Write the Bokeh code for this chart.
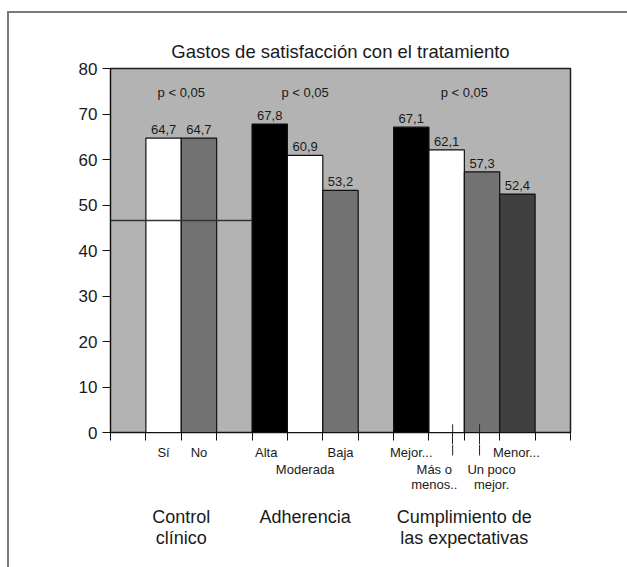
from bokeh.plotting import figure
from bokeh.layouts import column
from bokeh.models import (ColumnDataSource, Range1d, LinearAxis, FixedTicker, LabelSet)
from bokeh.core.properties import value
from bokeh.embed import file_html
from bokeh.resources import INLINE

# ---- data -------------------------------------------------------------
TITLE = "Gastos de satisfacción con el tratamiento"
groups = ["Control\nclínico", "Adherencia", "Cumplimiento de\nlas expectativas"]
group_sizes = [2, 3, 4]
group_notes = ["p < 0,05", "p < 0,05", "p < 0,05"]
categories = ["Sí", "No", "Alta", "Moderada", "Baja",
              "Mejor...", "Más o\nmenos..", "Un poco\nmejor.", "Menor..."]
scores = [64.7, 64.7, 67.8, 60.9, 53.2, 67.1, 62.1, 57.3, 52.4]
reference_score = 46.6
y_ticks = [0, 10, 20, 30, 40, 50, 60, 70, 80]

# ---- styling ----------------------------------------------------------
FONT = "Liberation Sans"
INK = "#1a1a1a"
bar_colors = ["white", "#727272", "black", "white", "#727272",
              "black", "white", "#727272", "#404040"]
label_rows = [0, 0, 0, 1, 0, 0, 1, 1, 0]        # staggered category labels
label_nudge = [0, 0, -0.1, 0, 0, 0, -0.35, 0.27, -0.03]   # in slot widths
row_top_px = [0, -17]                            # label tops below the axis strip
leader_dx = {6: 0.17, 7: -0.07}                  # leader lines for crowded labels

# slot layout: one empty slot before, between and after the groups
xs, group_centers = [], []
slot = 1
for n in group_sizes:
    pos = [slot + k + 0.5 for k in range(n)]
    xs += pos
    group_centers.append(sum(pos) / n)
    slot += n + 1
n_slots = slot
leader_x = [xs[i] + d for i, d in leader_dx.items()]

src = ColumnDataSource(dict(
    x=xs,
    score=scores,
    color=bar_colors,
    value_text=[f"{s:.1f}".replace(".", ",") for s in scores],
))
cat_src = ColumnDataSource(dict(
    x=[x + d for x, d in zip(xs, label_nudge)],
    y=[row_top_px[r] for r in label_rows],
    text=categories,
))
gsrc = ColumnDataSource(dict(x=group_centers, name=groups, note=group_notes))

x_range = Range1d(0, n_slots)

# ---- main chart -------------------------------------------------------
p = figure(width=618, height=431, x_range=x_range, y_range=Range1d(0, 80),
           output_backend="svg", toolbar_location=None,
           x_axis_type=None, y_axis_type=None,
           min_border_left=101, min_border_right=57,
           min_border_top=55, min_border_bottom=12)
p.background_fill_color = "#b3b3b3"
p.border_fill_color = "white"
p.outline_line_color = "#1e1e1e"
p.outline_line_width = 1.5

p.title.text = TITLE
p.title.align = "center"
p.title.text_font = FONT
p.title.text_font_size = "18.5px"
p.title.text_font_style = "normal"
p.title.text_color = INK
p.title.standoff = 14

yaxis = LinearAxis(ticker=FixedTicker(ticks=y_ticks))
yaxis.major_tick_out = 8
yaxis.major_tick_in = 0
yaxis.minor_tick_line_color = None
yaxis.major_label_standoff = 5
yaxis.major_label_text_font = FONT
yaxis.major_label_text_font_size = "17px"
yaxis.major_label_text_color = INK
yaxis.axis_line_color = "#111"
yaxis.major_tick_line_color = "#111"
p.add_layout(yaxis, "left")

# slot boundaries as major ticks; the two leader lines crossing the axis
# strip as longer minor ticks. Captions underneath are drawn separately.
xaxis = LinearAxis(ticker=FixedTicker(ticks=list(range(n_slots + 1)),
                                      minor_ticks=leader_x))
xaxis.major_tick_out = 8
xaxis.major_tick_in = 0
xaxis.minor_tick_out = 12
xaxis.minor_tick_in = 0
xaxis.minor_tick_line_color = "#222"
xaxis.major_label_text_font_size = "1px"
xaxis.major_label_text_color = None
xaxis.major_label_standoff = 0
xaxis.axis_line_color = "#111"
xaxis.major_tick_line_color = "#111"
p.add_layout(xaxis, "below")

p.vbar(x="x", top="score", width=1, bottom=0, source=src,
       fill_color="color", line_color="#111", line_width=1.2)

# reference level across the first group
p.segment(x0=[0], y0=[reference_score], x1=[xs[group_sizes[0]] - 0.5],
          y1=[reference_score], line_color="#333333", line_width=1.5)

# upper ends of the leader lines
p.segment(x0=leader_x, y0=[1.8] * len(leader_x), x1=leader_x, y1=[0] * len(leader_x),
          line_color="#222", line_width=1)

p.add_layout(LabelSet(x="x", y="score", text="value_text", source=src,
                      y_offset=4, text_align="center", text_baseline="bottom",
                      text_font=value(FONT), text_font_size=value("13px"),
                      text_color=INK))

p.add_layout(LabelSet(x="x", y=80, text="note", source=gsrc, y_offset=-24,
                      text_align="center", text_baseline="middle",
                      text_font=value(FONT), text_font_size=value("13px"),
                      text_color=INK))

# ---- category and group captions -------------------------------------
q = figure(width=618, height=123, x_range=x_range, y_range=Range1d(-123, 0),
           output_backend="svg", toolbar_location=None,
           x_axis_type=None, y_axis_type=None,
           min_border_left=101, min_border_right=57,
           min_border_top=0, min_border_bottom=0)
q.outline_line_color = None
q.background_fill_color = "white"
q.border_fill_color = "white"

q.segment(x0=leader_x, y0=[0] * len(leader_x), x1=leader_x, y1=[-11] * len(leader_x),
          line_color="#222", line_width=1)

q.text(x="x", y="y", text="text", source=cat_src,
       text_align="center", text_baseline="top", text_line_height=1.02,
       text_font=value(FONT), text_font_size=value("13px"), text_color=INK)

q.text(x="x", y=-62, text="name", source=gsrc,
       text_align="center", text_baseline="top", text_line_height=1.08,
       text_font=value(FONT), text_font_size=value("18px"), text_color=INK)

page = column(p, q, spacing=0,
              styles={"border-top": "2px solid #7a7a7a",
                      "border-left": "2px solid #7a7a7a",
                      "margin-left": "7px", "margin-top": "11px"})

open("out.html", "w").write(file_html(page, INLINE))
